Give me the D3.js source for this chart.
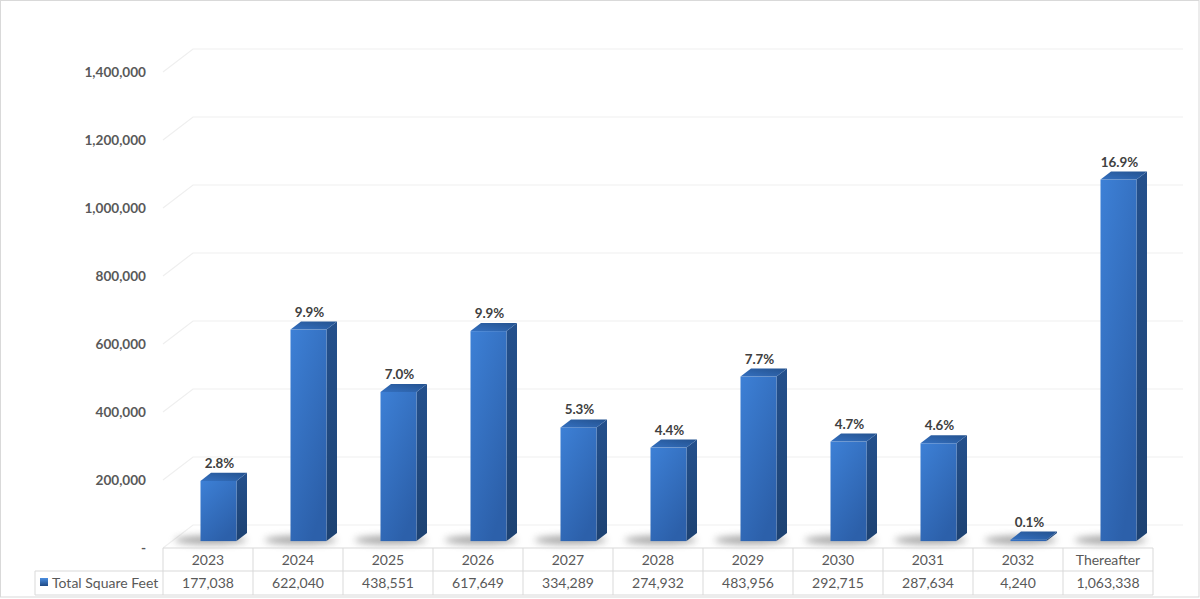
<!DOCTYPE html>
<html><head><meta charset="utf-8">
<script src="https://cdn.jsdelivr.net/npm/d3@7"></script>
<style>
html,body{margin:0;padding:0;background:#fff;}
svg{display:block;}
</style></head>
<body>
<svg id="chart" width="1200" height="599"></svg>
<script>
const categories = ["2023","2024","2025","2026","2027","2028","2029","2030","2031","2032","Thereafter"];
const values = [177038,622040,438551,617649,334289,274932,483956,292715,287634,4240,1063338];
const valueLabels = ["177,038","622,040","438,551","617,649","334,289","274,932","483,956","292,715","287,634","4,240","1,063,338"];
const pctLabels = ["2.8%","9.9%","7.0%","9.9%","5.3%","4.4%","7.7%","4.7%","4.6%","0.1%","16.9%"];
const yTicks = [0,200000,400000,600000,800000,1000000,1200000,1400000];
const seriesName = "Total Square Feet";

const svg = d3.select("#chart");
const W = 1200, H = 599;
const font = "Lato, 'Open Sans', sans-serif";

// geometry
const plotLeft = 163, plotRight = 1153, floorFront = 548;
const DX = 30, DY = -23;            // full depth offset
const f0 = 0.3, fd = 0.35;          // bar depth position / size
const barW = 36;
const backRight = 1183;

const x = d3.scaleBand().domain(categories).range([plotLeft, plotRight]).padding(0);
const y = d3.scaleLinear().domain([0, 1400000]).range([floorFront, floorFront - 476]);

const defs = svg.append("defs");
const gFront = defs.append("linearGradient").attr("id","gFront").attr("x1","0").attr("y1","0").attr("x2","0.6").attr("y2","1");
gFront.append("stop").attr("offset","0").attr("stop-color","#3d80d6");
gFront.append("stop").attr("offset","1").attr("stop-color","#2c60aa");
const gSide = defs.append("linearGradient").attr("id","gSide").attr("x1","0").attr("y1","0").attr("x2","0").attr("y2","1");
gSide.append("stop").attr("offset","0").attr("stop-color","#24508c");
gSide.append("stop").attr("offset","1").attr("stop-color","#1d4272");
const gTop = defs.append("linearGradient").attr("id","gTop").attr("x1","0").attr("y1","1").attr("x2","1").attr("y2","0");
gTop.append("stop").attr("offset","0").attr("stop-color","#3470c0");
gTop.append("stop").attr("offset","1").attr("stop-color","#24528f");
defs.append("filter").attr("id","blur").attr("x","-50%").attr("y","-200%").attr("width","200%").attr("height","500%")
  .append("feGaussianBlur").attr("stdDeviation","3.5");
const gLeg = defs.append("linearGradient").attr("id","gLeg").attr("x1","0").attr("y1","0").attr("x2","0").attr("y2","1");
gLeg.append("stop").attr("offset","0").attr("stop-color","#4a8ee0");
gLeg.append("stop").attr("offset","1").attr("stop-color","#1f4a84");

// outer border
svg.append("rect").attr("x",0.5).attr("y",0.5).attr("width",W-1.5).attr("height",H-2.5)
  .attr("fill","none").attr("stroke","#d9d9d9");

// gridlines (back wall + side wall diagonals)
const grid = svg.append("g").attr("stroke","#efefef").attr("stroke-width",1.2).attr("fill","none");
yTicks.forEach(v => {
  const yf = y(v);
  grid.append("path").attr("d", `M${plotLeft},${yf} L${plotLeft+DX},${yf+DY} L${backRight},${yf+DY}`);
});

// y axis labels
svg.append("g").selectAll("text").data(yTicks).join("text")
  .attr("x",146).attr("y",d=>y(d)+5)
  .attr("text-anchor","end").attr("font-family",font).attr("font-weight","bold")
  .attr("font-size",13.6).attr("fill","#595959")
  .text(d => d===0 ? "-" : d3.format(",")(d));

// shadows
const bx = d => x(d) + x.bandwidth()/2 - barW/2 + 0.35*DX;
const baseY = floorFront + f0*DY;
svg.append("g").selectAll("ellipse").data(categories).join("ellipse")
  .attr("cx", d => bx(d) + barW/2 - 8)
  .attr("cy", baseY - 1)
  .attr("rx", 36).attr("ry", 4.5)
  .attr("fill","#6e6e6e").attr("opacity",0.6).attr("filter","url(#blur)");

// bars
const ddx = fd*DX, ddy = fd*DY;
const bars = svg.append("g").selectAll("g").data(categories.map((c,i)=>({c, v:values[i], p:pctLabels[i]}))).join("g");
bars.each(function(d){
  const g = d3.select(this);
  const x0 = bx(d.c), x1 = x0 + barW;
  const yt = y(d.v) + f0*DY, yb = baseY;
  // side
  g.append("path").attr("d",`M${x1},${yb} L${x1+ddx},${yb+ddy} L${x1+ddx},${yt+ddy} L${x1},${yt} Z`).attr("fill","url(#gSide)");
  // front
  if (yb - yt > 0.5) g.append("rect").attr("x",x0).attr("y",yt).attr("width",barW).attr("height",yb-yt).attr("fill","url(#gFront)");
  // top
  g.append("path").attr("d",`M${x0},${yt} L${x0+ddx},${yt+ddy} L${x1+ddx},${yt+ddy} L${x1},${yt} Z`).attr("fill","url(#gTop)");
  // label
  g.append("text").attr("x", x0 + barW/2 + 1).attr("y", yt + ddy - 5)
    .attr("text-anchor","middle").attr("font-family",font).attr("font-weight","bold")
    .attr("font-size",13.4).attr("fill","#404040").text(d.p);
});

// data table
const tbl = svg.append("g");
const rowTop = 548, rowMid = 571, rowBot = 595, legLeft = 35;
const lineC = "#d9d9d9";
tbl.append("line").attr("x1",plotLeft).attr("x2",plotRight).attr("y1",rowTop).attr("y2",rowTop).attr("stroke",lineC);
tbl.append("line").attr("x1",legLeft).attr("x2",plotRight).attr("y1",rowMid).attr("y2",rowMid).attr("stroke",lineC);
tbl.append("line").attr("x1",legLeft).attr("x2",plotRight).attr("y1",rowBot).attr("y2",rowBot).attr("stroke",lineC);
tbl.append("line").attr("x1",legLeft).attr("x2",legLeft).attr("y1",rowMid).attr("y2",rowBot).attr("stroke",lineC);
categories.forEach(c => {
  tbl.append("line").attr("x1",x(c)).attr("x2",x(c)).attr("y1",rowTop).attr("y2",rowBot).attr("stroke",lineC);
});
tbl.append("line").attr("x1",plotRight).attr("x2",plotRight).attr("y1",rowTop).attr("y2",rowBot).attr("stroke",lineC);
tbl.selectAll("text.cat").data(categories).join("text").attr("class","cat")
  .attr("x",d=>x(d)+x.bandwidth()/2).attr("y",rowTop+17)
  .attr("text-anchor","middle").attr("font-family",font).attr("font-size",14).attr("fill","#595959").text(d=>d);
tbl.selectAll("text.val").data(categories).join("text").attr("class","val")
  .attr("x",d=>x(d)+x.bandwidth()/2).attr("y",rowMid+17)
  .attr("text-anchor","middle").attr("font-family",font).attr("font-size",14).attr("fill","#595959")
  .text((d,i)=>valueLabels[i]);
tbl.append("rect").attr("x",40).attr("y",578).attr("width",8).attr("height",8).attr("fill","url(#gLeg)");
tbl.append("text").attr("x",52).attr("y",rowMid+17).attr("font-family",font).attr("font-size",14)
  .attr("fill","#595959").text(seriesName);
</script>
</body></html>
